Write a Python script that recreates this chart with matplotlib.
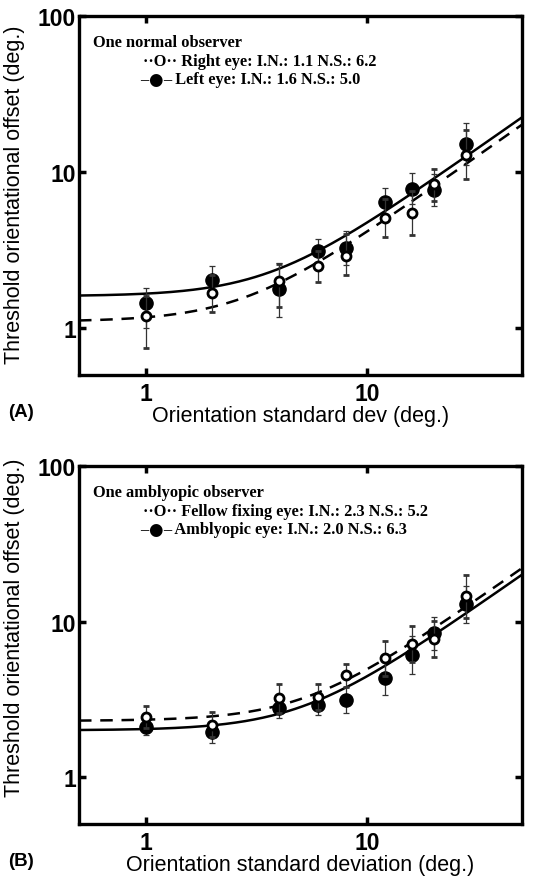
import numpy as np
import matplotlib
matplotlib.use('Agg')
import matplotlib.pyplot as plt

# orientation standard deviation (deg.)
sd = [1, 2, 4, 6, 8, 12, 16, 20, 28]

# (A) one normal observer
right_eye = [1.19, 1.67, 1.99, 2.48, 2.91, 5.06, 5.46, 8.4, 12.8]
right_lo = [0.74, 1.26, 1.37, 1.96, 2.2, 3.83, 3.93, 6.56, 9.06]
right_hi = [1.6, 2.2, 2.58, 3.14, 3.99, 6.7, 7.6, 10.4, 18.5]
left_eye = [1.44, 2.04, 1.77, 3.11, 3.27, 6.4, 7.8, 7.7, 15.1]
left_lo = [1.0, 1.66, 1.18, 2.59, 2.55, 5.2, 6.2, 6.03, 11.1]
left_hi = [1.8, 2.51, 2.6, 3.74, 4.19, 7.93, 9.87, 9.77, 20.6]

# (B) one amblyopic observer
fellow_eye = [2.43, 2.17, 3.22, 3.29, 4.52, 5.81, 7.18, 7.69, 14.5]
fellow_lo = [2.06, 1.8, 2.6, 2.7, 3.8, 4.48, 5.5, 5.9, 10.6]
fellow_hi = [2.87, 2.61, 3.96, 3.96, 5.34, 7.54, 9.37, 10.1, 19.9]
ambly_eye = [2.10, 1.96, 2.80, 2.91, 3.14, 4.32, 6.1, 8.41, 12.9]
ambly_lo = [1.87, 1.67, 2.4, 2.51, 2.58, 3.38, 4.59, 6.57, 9.75]
ambly_hi = [2.36, 2.3, 3.3, 3.4, 3.8, 5.5, 8.1, 10.7, 17.0]

# fitted equivalent-noise parameters (internal noise, number of samples)
fit_A = {'open': (1.1, 6.2), 'filled': (1.6, 5.0)}
fit_B = {'open': (2.3, 5.2), 'filled': (2.0, 6.3)}

legend_A = ['One normal observer',
            'Right eye: I.N.: 1.1 N.S.: 6.2',
            'Left eye: I.N.: 1.6 N.S.: 5.0']
legend_B = ['One amblyopic observer',
            'Fellow fixing eye: I.N.: 2.3 N.S.: 5.2',
            'Amblyopic eye: I.N.: 2.0 N.S.: 6.3']


def err(y, lo, hi):
    y, lo, hi = np.array(y), np.array(lo), np.array(hi)
    return [y - lo, hi - y]


def panel(ax, open_y, open_lo, open_hi, fill_y, fill_lo, fill_hi, fit, legend,
          xlabel, tag, ylab_y):
    s = np.logspace(np.log10(0.5), np.log10(50), 300)
    in_o, ns_o = fit['open']
    in_f, ns_f = fit['filled']
    ax.plot(s, np.sqrt(in_o**2 + s**2 / ns_o), 'k--', lw=1.8, dashes=(5, 3.5), zorder=2)
    ax.plot(s, np.sqrt(in_f**2 + s**2 / ns_f), 'k-', lw=1.8, zorder=2)

    ax.errorbar(sd, fill_y, yerr=err(fill_y, fill_lo, fill_hi), fmt='o', ms=9.5,
                mfc='k', mec='k', ecolor='#333333', elinewidth=0.9, capsize=2.5,
                capthick=0.9, zorder=3)
    ax.errorbar(sd, open_y, yerr=err(open_y, open_lo, open_hi), fmt='o', ms=6.5,
                mfc='white', mec='k', mew=2.0, ecolor='#333333', elinewidth=0.9,
                capsize=2.5, capthick=0.9, zorder=4)

    ax.set_xscale('log')
    ax.set_yscale('log')
    ax.set_xlim(0.5, 50)
    ax.set_ylim(0.5, 100)
    ax.set_xticks([1, 10])
    ax.set_xticklabels(['1', '10'])
    ax.set_yticks([1, 10, 100])
    ax.set_yticklabels(['1', '10', '100'])
    ax.minorticks_off()
    ax.tick_params(which='major', direction='in', length=5, width=2.5,
                   top=True, right=True, labelsize=16.5)
    ax.tick_params(axis='x', pad=5)
    ax.tick_params(axis='y', pad=2)
    for lab in ax.get_xticklabels() + ax.get_yticklabels():
        lab.set_fontweight('bold')
        lab.set_family('Liberation Sans')
    for sp in ax.spines.values():
        sp.set_linewidth(2.4)

    ax.set_xlabel(xlabel, fontsize=15.5, family='Liberation Sans', labelpad=0)
    ax.set_ylabel('Threshold orientational offset (deg.)', fontsize=15.5,
                  family='Liberation Sans')
    ax.yaxis.set_label_coords(-0.122, ylab_y)

    serif = dict(fontsize=11.8, fontweight='bold', family='Liberation Serif', va='center')
    ax.text(0.032, 0.927, legend[0], transform=ax.transAxes, **serif)
    ax.text(0.145, 0.874, '\u00b7\u00b7O\u00b7\u00b7 ' + legend[1],
            transform=ax.transAxes, **serif)
    d1 = ax.text(0.138, 0.824, '\u2013', transform=ax.transAxes, **serif)
    dot = ax.annotate('\u25cf', xy=(1, 0.5), xycoords=d1, ha='left', va='center',
                      fontsize=12, family='DejaVu Sans')
    ax.annotate('\u2013 ' + legend[2], xy=(1, 0.5), xycoords=dot, ha='left', **serif)

    ax.text(-0.160, -0.078, tag, transform=ax.transAxes, fontsize=13.5,
            fontweight='bold', family='Liberation Sans', va='top')


fig = plt.figure(figsize=(5.33, 8.78), dpi=100)
ax1 = fig.add_axes([79 / 533, 1 - 376 / 878, 443 / 533, 359 / 878])
ax2 = fig.add_axes([79 / 533, 1 - 825 / 878, 443 / 533, 358 / 878])

panel(ax1, right_eye, right_lo, right_hi, left_eye, left_lo, left_hi, fit_A, legend_A,
      'Orientation standard dev (deg.)', '(A)', 0.505)
panel(ax2, fellow_eye, fellow_lo, fellow_hi, ambly_eye, ambly_lo, ambly_hi, fit_B, legend_B,
      'Orientation standard deviation (deg.)', '(B)', 0.55)

fig.savefig('out.png', dpi=100)
